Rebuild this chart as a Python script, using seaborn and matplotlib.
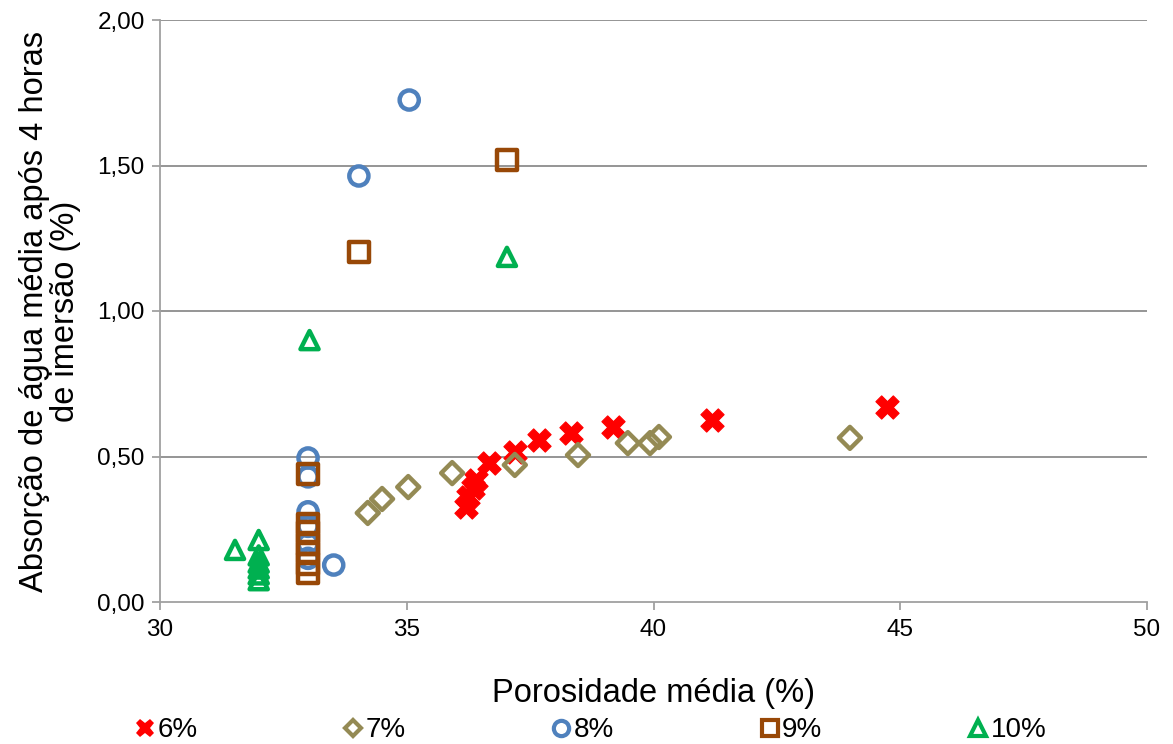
import matplotlib
matplotlib.use("Agg")
import matplotlib.pyplot as plt
import seaborn as sns
import numpy as np
from matplotlib.lines import Line2D

# ---- data ----
x6 = [36.21, 36.24, 36.34, 36.40, 36.67, 37.19, 37.68, 38.33, 39.18, 41.18, 44.73]
y6 = [0.327, 0.361, 0.392, 0.419, 0.478, 0.515, 0.557, 0.581, 0.601, 0.625, 0.670]

x7 = [34.21, 34.50, 35.03, 35.92, 37.19, 38.47, 39.48, 39.93, 40.11, 43.98]
y7 = [0.306, 0.354, 0.395, 0.443, 0.471, 0.505, 0.546, 0.546, 0.567, 0.564]

x8 = [35.05, 34.03, 33.0, 33.0, 33.0, 33.0, 33.0, 33.0, 33.52]
y8 = [1.725, 1.464, 0.495, 0.43, 0.31, 0.26, 0.20, 0.15, 0.127]

x9 = [37.03, 34.03, 33.0, 33.0, 33.0, 33.0, 33.0, 33.0, 33.0]
y9 = [1.519, 1.203, 0.44, 0.27, 0.24, 0.20, 0.17, 0.13, 0.10]

x10 = [31.52, 32.0, 32.0, 32.0, 32.0, 32.0, 32.0, 33.03, 37.03]
y10 = [0.179, 0.213, 0.16, 0.135, 0.115, 0.095, 0.075, 0.90, 1.186]

labels = ["6%", "7%", "8%", "9%", "10%"]
xticks = [30, 35, 40, 45, 50]
yticks = [0.0, 0.5, 1.0, 1.5, 2.0]

c6, c7, c8, c9, c10 = "#FF0000", "#948A54", "#4F81BD", "#984807", "#00B050"

sns.set_theme(style="white")
plt.rcParams["font.family"] = ["Liberation Sans", "DejaVu Sans"]
plt.rcParams["text.color"] = "black"
plt.rcParams["axes.labelcolor"] = "black"

fig = plt.figure(figsize=(11.73, 7.44), dpi=100)
ax = fig.add_axes([160/1173, 1-602/744, (1147-160)/1173, (602-20)/744])

gray = "#A0A0A0"
for yv in yticks[1:]:
    ax.axhline(yv, color="#8C8C8C", lw=1.3, zorder=0)

series = [
    (x6, y6, "X", c6, 280, True),
    (x7, y7, "D", c7, 125, False),
    (x8, y8, "o", c8, 190, False),
    (x9, y9, "s", c9, 200, False),
    (x10, y10, "^", c10, 170, False),
]
for xs, ys, m, c, s, filled in series:
    sns.scatterplot(x=xs, y=ys, marker=m, s=s, color=c, ax=ax, zorder=3,
                    linewidth=0 if filled else 3.2, legend=False)
    coll = ax.collections[-1]
    if filled:
        coll.set_facecolor(c)
        coll.set_edgecolor(c)
        coll.set_linewidth(0.8)
    else:
        coll.set_facecolor("none")
        coll.set_edgecolor(c)
        coll.set_linewidth(3.2)

ax.set_xlim(30, 50)
ax.set_ylim(0, 2.0)
ax.set_xticks(xticks)
ax.set_yticks(yticks)
ax.set_yticklabels([f"{v:.2f}".replace(".", ",") for v in yticks], fontsize=17.5)
ax.set_xticklabels([str(v) for v in xticks], fontsize=17.5)
ax.tick_params(axis="both", colors="black", length=6, width=1.3,
               color=gray, direction="out", left=True, bottom=True)
ax.tick_params(axis="y", pad=5)
ax.tick_params(axis="x", pad=6)
for sp in ["top", "right"]:
    ax.spines[sp].set_visible(False)
for sp in ["left", "bottom"]:
    ax.spines[sp].set_color(gray)
    ax.spines[sp].set_linewidth(1.3)

ax.set_xlabel("Porosidade média (%)", fontsize=23.5, labelpad=27, color="black")
ax.set_ylabel("Absorção de água média após 4 horas\nde imersão (%)", fontsize=23.5,
              labelpad=12, linespacing=1.0, color="black")

handles = [
    Line2D([], [], marker="X", ls="none", color=c6, markersize=13, markeredgewidth=0),
    Line2D([], [], marker="D", ls="none", markerfacecolor="none", markeredgecolor=c7, markersize=8, markeredgewidth=3),
    Line2D([], [], marker="o", ls="none", markerfacecolor="none", markeredgecolor=c8, markersize=11, markeredgewidth=3),
    Line2D([], [], marker="s", ls="none", markerfacecolor="none", markeredgecolor=c9, markersize=11, markeredgewidth=3),
    Line2D([], [], marker="^", ls="none", markerfacecolor="none", markeredgecolor=c10, markersize=11, markeredgewidth=3),
]
leg = fig.legend(handles, labels, loc="lower left", bbox_to_anchor=(120/1173, -16/744),
                 ncol=5, frameon=False, fontsize=20, handlelength=0.6,
                 handletextpad=0.15, columnspacing=5.3, borderaxespad=0.2)

fig.savefig("out.png", dpi=100)
